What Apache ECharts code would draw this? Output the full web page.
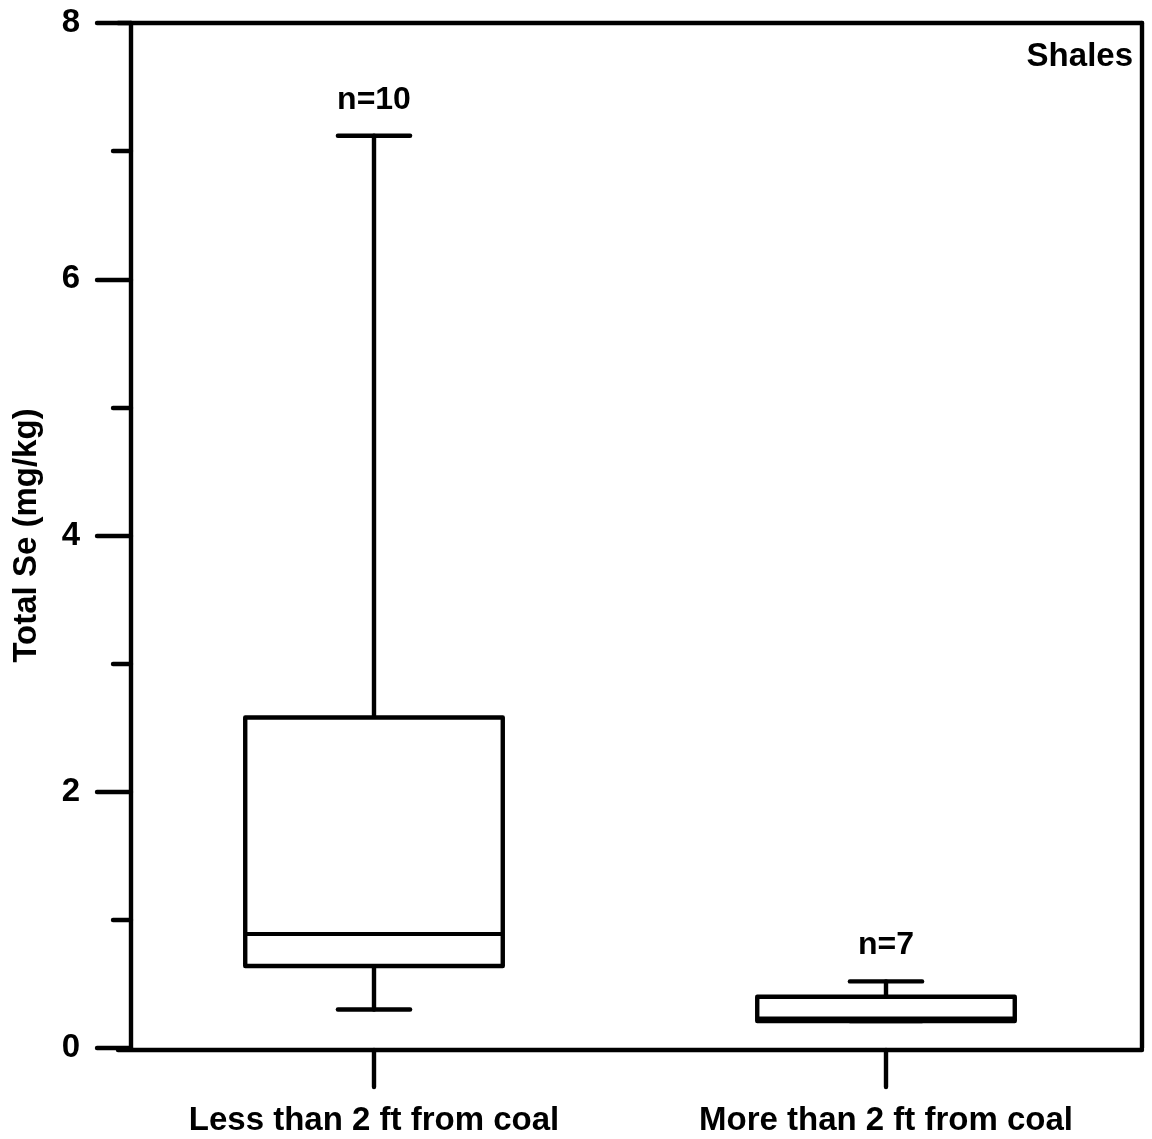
<!DOCTYPE html>
<html>
<head>
<meta charset="utf-8">
<script src="https://cdn.jsdelivr.net/npm/echarts@6/dist/echarts.min.js"></script>
<style>
html,body{margin:0;padding:0;background:#fff;}
#chart{width:1152px;height:1139px;}
</style>
</head>
<body>
<div id="chart"></div>
<script>
const categories = ['Less than 2 ft from coal', 'More than 2 ft from coal'];
const minVals = [0.30, 0.21];
const q1Vals = [0.64, 0.21];
const medianVals = [0.89, 0.23];
const q3Vals = [2.58, 0.40];
const maxVals = [7.12, 0.52];
const nLabels = ['n=10', 'n=7'];
const yTicks = { min: 0, max: 8, interval: 2 };
const panelLabel = 'Shales';
const yTitle = 'Total Se (mg/kg)';

const FONT = '"Liberation Sans", Arial, Helvetica, sans-serif';
const LW = 4.4;
const boxData = categories.map((c, i) => [i, minVals[i], q1Vals[i], medianVals[i], q3Vals[i], maxVals[i]]);

function renderItem(params, api) {
  const idx = api.value(0);
  const band = api.size([1, 0])[0];
  const boxW = band * 0.503;
  const capW = band * 0.141;
  const pMin = api.coord([idx, api.value(1)]);
  const pQ1 = api.coord([idx, api.value(2)]);
  const pMed = api.coord([idx, api.value(3)]);
  const pQ3 = api.coord([idx, api.value(4)]);
  const pMax = api.coord([idx, api.value(5)]);
  const cx = pMin[0];
  const ls = { stroke: '#000', lineWidth: LW, lineCap: 'round', fill: null };
  return {
    type: 'group',
    children: [
      { type: 'line', shape: { x1: cx, y1: pQ3[1], x2: cx, y2: pMax[1] }, style: ls },
      { type: 'line', shape: { x1: cx, y1: pQ1[1], x2: cx, y2: pMin[1] }, style: ls },
      { type: 'line', shape: { x1: cx - capW / 2, y1: pMax[1], x2: cx + capW / 2, y2: pMax[1] }, style: ls },
      { type: 'line', shape: { x1: cx - capW / 2, y1: pMin[1], x2: cx + capW / 2, y2: pMin[1] }, style: ls },
      { type: 'rect', shape: { x: cx - boxW / 2, y: pQ3[1], width: boxW, height: pQ1[1] - pQ3[1] },
        style: { stroke: '#000', lineWidth: LW, fill: '#fff', lineJoin: 'round' } },
      { type: 'line', shape: { x1: cx - boxW / 2, y1: pMed[1], x2: cx + boxW / 2, y2: pMed[1] }, style: { stroke: '#000', lineWidth: 4 } },
      { type: 'text', style: { text: nLabels[idx], x: cx, y: pMax[1] - 36, align: 'center', verticalAlign: 'middle',
        font: 'bold 32px ' + FONT, fill: '#000' } }
    ]
  };
}

const chart = echarts.init(document.getElementById('chart'));
chart.setOption({
  animation: false,
  backgroundColor: '#fff',
  grid: { left: 118, right: 10, top: 23, bottom: 91, containLabel: false },
  xAxis: [
    {
      type: 'category', data: categories, position: 'bottom', offset: 2,
      axisLine: { show: true, onZero: false, lineStyle: { color: '#000', width: LW } },
      axisTick: { show: true, alignWithLabel: true, length: 37, lineStyle: { color: '#000', width: LW, cap: 'round' } },
      axisLabel: { color: '#000', fontSize: 33, fontWeight: 'bold', fontFamily: FONT, margin: 54 },
      splitLine: { show: false }
    },
    {
      type: 'category', data: categories, position: 'top',
      axisLine: { show: true, onZero: false, lineStyle: { color: '#000', width: LW } },
      axisTick: { show: false }, axisLabel: { show: false }, splitLine: { show: false }
    }
  ],
  yAxis: [
    {
      type: 'value', min: yTicks.min, max: yTicks.max, interval: yTicks.interval, position: 'left', offset: -13,
      name: yTitle, nameLocation: 'middle', nameGap: 88,
      nameTextStyle: { color: '#000', fontSize: 33, fontWeight: 'bold', fontFamily: FONT },
      axisLine: { show: true, onZero: false, lineStyle: { color: '#000', width: LW } },
      axisTick: { show: true, length: 34, lineStyle: { color: '#000', width: LW, cap: 'round' } },
      minorTick: { show: true, splitNumber: 2, length: 18, lineStyle: { color: '#000', width: LW, cap: 'round' } },
      axisLabel: { color: '#000', fontSize: 33, fontWeight: 'bold', fontFamily: FONT, margin: 51 },
      splitLine: { show: false }
    },
    {
      type: 'value', min: yTicks.min, max: yTicks.max, interval: yTicks.interval, position: 'right',
      axisLine: { show: true, onZero: false, lineStyle: { color: '#000', width: LW } },
      axisTick: { show: false }, axisLabel: { show: false }, splitLine: { show: false }
    }
  ],
  graphic: [
    { type: 'text', right: 19, top: 40, style: { text: panelLabel, font: 'bold 33px ' + FONT, fill: '#000' } }
  ],
  series: [
    {
      type: 'custom', renderItem: renderItem, data: boxData, clip: false,
      xAxisIndex: 0, yAxisIndex: 0,
      encode: { x: 0, y: [1, 2, 3, 4, 5] }
    }
  ]
});
</script>
</body>
</html>
